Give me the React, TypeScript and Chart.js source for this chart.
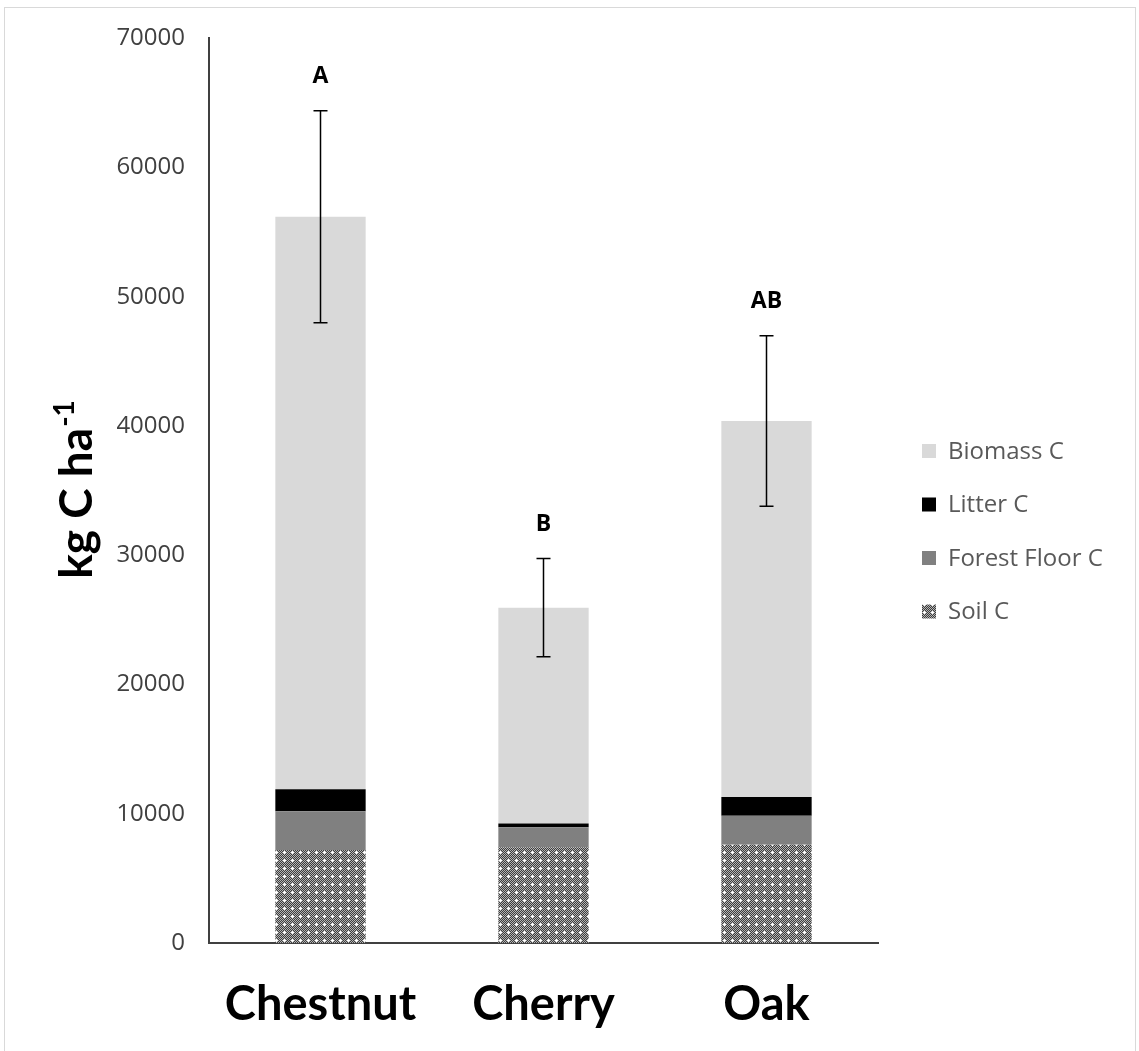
import React, { useEffect, useRef } from 'react';
import { Chart, registerables } from 'chart.js';

Chart.register(...registerables);

const categories = ['Chestnut', 'Cherry', 'Oak'];
const soilC = [7200, 7400, 7600];
const forestFloorC = [3000, 1550, 2250];
const litterC = [1700, 300, 1450];
const biomassC = [44300, 16700, 29100];
const totalError = [8200, 3800, 6600];
const groupLetters = ['A', 'B', 'AB'];
const yMin = 0;
const yMax = 70000;
const yStep = 10000;
const yTitleMain = 'kg C ha';
const yTitleSup = '-1';

const W = 1139;
const H = 1051;

function makeSoilPattern(ctx: CanvasRenderingContext2D): CanvasPattern | string {
  const c = document.createElement('canvas');
  c.width = 8;
  c.height = 8;
  const g = c.getContext('2d');
  if (!g) return '#808080';
  for (let y = 0; y < 8; y++) {
    for (let x = 0; x < 8; x++) {
      g.fillStyle = (x + y) % 2 ? '#3c3c3c' : '#b4b4b4';
      g.fillRect(x, y, 1, 1);
    }
  }
  g.fillStyle = '#ffffff';
  g.fillRect(3, 4, 3, 1);
  g.fillRect(4, 3, 1, 3);
  return ctx.createPattern(c, 'repeat') || '#808080';
}

const framePlugin = {
  id: 'frame',
  beforeDraw(chart: any) {
    const { ctx } = chart;
    ctx.save();
    ctx.fillStyle = '#ffffff';
    ctx.fillRect(0, 0, W, H);
    ctx.strokeStyle = '#d9d9d9';
    ctx.lineWidth = 1;
    ctx.strokeRect(4.5, 7.5, 1131, 1060);
    ctx.restore();
  },
};

const extrasPlugin = {
  id: 'extras',
  afterDatasetsDraw(chart: any) {
    const { ctx } = chart;
    const yScale = chart.scales.y;
    const datasets = chart.data.datasets;
    const lastMeta = chart.getDatasetMeta(datasets.length - 1);
    ctx.save();
    for (let i = 0; i < categories.length; i++) {
      let total = 0;
      for (const ds of datasets) total += ds.data[i] as number;
      const x = lastMeta.data[i].x;
      const yTop = yScale.getPixelForValue(total + totalError[i]);
      const yBot = yScale.getPixelForValue(total - totalError[i]);
      ctx.strokeStyle = '#000000';
      ctx.lineWidth = 1.5;
      ctx.beginPath();
      ctx.moveTo(x, yTop);
      ctx.lineTo(x, yBot);
      ctx.moveTo(x - 7, yTop);
      ctx.lineTo(x + 7, yTop);
      ctx.moveTo(x - 7, yBot);
      ctx.lineTo(x + 7, yBot);
      ctx.stroke();
      ctx.fillStyle = '#000000';
      ctx.font = 'bold 23px "Open Sans"';
      ctx.textAlign = 'center';
      ctx.textBaseline = 'middle';
      ctx.fillText(groupLetters[i], x, yTop - 34);
    }
    ctx.restore();
  },
  afterDraw(chart: any) {
    const { ctx } = chart;
    ctx.save();
    // y axis title
    const size = 46;
    ctx.fillStyle = '#000000';
    ctx.font = `bold ${size}px Lato`;
    const mainW = ctx.measureText(yTitleMain).width;
    ctx.font = `bold ${Math.round(size * 0.6)}px Lato`;
    const supW = ctx.measureText(yTitleSup).width;
    const total = mainW + supW;
    ctx.translate(92, 490);
    ctx.rotate(-Math.PI / 2);
    ctx.textAlign = 'left';
    ctx.textBaseline = 'alphabetic';
    ctx.font = `bold ${size}px Lato`;
    ctx.fillText(yTitleMain, -total / 2, 0);
    ctx.font = `bold ${Math.round(size * 0.6)}px Lato`;
    ctx.fillText(yTitleSup, -total / 2 + mainW + 1, -size * 0.4);
    ctx.restore();

    // legend
    ctx.save();
    const datasets = chart.data.datasets;
    const order = datasets.map((_: any, i: number) => i).reverse();
    const startY = 451;
    const gap = 53.5;
    ctx.font = '24px "Open Sans"';
    ctx.textAlign = 'left';
    ctx.textBaseline = 'middle';
    order.forEach((di: number, k: number) => {
      const ds = datasets[di];
      const y = startY + k * gap;
      ctx.fillStyle = ds.backgroundColor;
      ctx.fillRect(922, y - 7, 14, 14);
      ctx.fillStyle = '#595959';
      ctx.fillText(ds.label, 948, y + 1);
    });
    ctx.restore();
  },
};

export default function App() {
  const ref = useRef<HTMLCanvasElement | null>(null);
  useEffect(() => {
    const canvas = ref.current;
    if (!canvas) return;
    const ctx = canvas.getContext('2d');
    if (!ctx) return;
    const soilPattern = makeSoilPattern(ctx);
    const common = { barPercentage: 0.405, categoryPercentage: 1.0, borderWidth: 0 };
    const chart = new Chart(ctx, {
      type: 'bar',
      data: {
        labels: categories,
        datasets: [
          { label: 'Soil C', data: soilC, backgroundColor: soilPattern as any, ...common },
          { label: 'Forest Floor C', data: forestFloorC, backgroundColor: '#808080', ...common },
          { label: 'Litter C', data: litterC, backgroundColor: '#000000', ...common },
          { label: 'Biomass C', data: biomassC, backgroundColor: '#d9d9d9', ...common },
        ],
      },
      options: {
        responsive: false,
        animation: false,
        devicePixelRatio: 1,
        layout: { padding: { left: 0, top: 38, right: W - 878, bottom: 0 } },
        plugins: {
          legend: { display: false },
          tooltip: { enabled: false },
        },
        scales: {
          x: {
            stacked: true,
            grid: { display: false, drawTicks: false },
            border: { display: true, color: '#404040', width: 2 },
            ticks: {
              font: { family: 'Lato', weight: 'bold', size: 47 },
              color: '#000000',
              padding: 34,
            },
            afterFit: (s: any) => {
              s.height = H - 943;
            },
          },
          y: {
            stacked: true,
            min: yMin,
            max: yMax,
            grid: { display: false, drawTicks: false },
            border: { display: true, color: '#404040', width: 2 },
            ticks: {
              stepSize: yStep,
              font: { family: 'Open Sans', size: 24 },
              color: '#404040',
              padding: 24,
              callback: (v: any) => String(v),
            },
            afterFit: (s: any) => {
              s.width = 209;
            },
          },
        },
      },
      plugins: [framePlugin, extrasPlugin],
    });
    return () => chart.destroy();
  }, []);
  return (
    <div style={{ position: 'absolute', left: 0, top: 0, width: W, height: H, background: '#fff' }}>
      <canvas ref={ref} width={W} height={H} style={{ display: 'block', width: W, height: H }} />
    </div>
  );
}
